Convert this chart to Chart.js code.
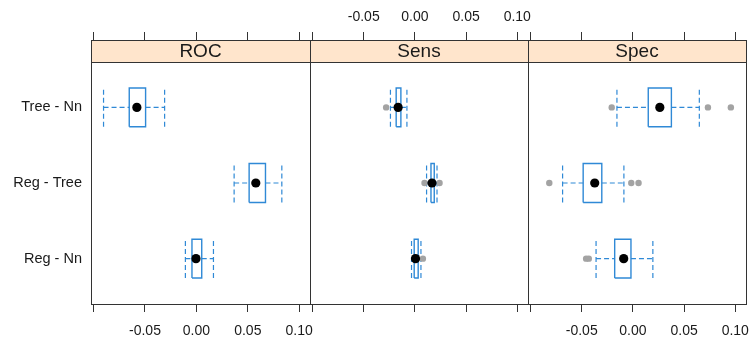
<!DOCTYPE html>
<html>
<head>
<meta charset="utf-8">
<script src="https://cdn.jsdelivr.net/npm/chart.js@4.4.0/dist/chart.umd.min.js"></script>
<style>
  body { margin: 0; background: #fff; overflow: hidden; }
  #wrap { position: relative; width: 751px; height: 338px; overflow: hidden; }
  #wrap canvas { position: absolute; left: 0; top: 0; }
</style>
</head>
<body>
<div id="wrap">
  <canvas id="roc" width="800" height="338"></canvas>
  <canvas id="sens" width="800" height="338"></canvas>
  <canvas id="spec" width="800" height="338"></canvas>
</div>
<script>
// comparisons, bottom row first
const comparisons = ['Reg - Nn', 'Reg - Tree', 'Tree - Nn'];
const metrics = ['ROC', 'Sens', 'Spec'];
const xTicks = [-0.10, -0.05, 0.00, 0.05, 0.10];

// [lower whisker, Q1, median, Q3, upper whisker] per comparison
const rocBox = [
  [-0.0107, -0.0043, -0.0004, 0.0052, 0.0166],
  [0.0367, 0.0513, 0.0578, 0.0672, 0.0831],
  [-0.0903, -0.0653, -0.0579, -0.0494, -0.0309]
];
const sensBox = [
  [-0.0033, -0.0007, 0.0006, 0.0032, 0.0059],
  [0.0114, 0.0157, 0.0167, 0.0189, 0.0216],
  [-0.0239, -0.0183, -0.0164, -0.0137, -0.0078]
];
const specBox = [
  [-0.0360, -0.0178, -0.0090, -0.0019, 0.0195],
  [-0.0687, -0.0486, -0.0373, -0.0304, -0.0088],
  [-0.0156, 0.0150, 0.0263, 0.0376, 0.0649]
];

// outliers per comparison
const rocOut = [[], [], []];
const sensOut = [[0.0078], [0.0094, 0.0241], [-0.0281]];
const specOut = [[-0.0457, -0.0431], [-0.0817, -0.0016, 0.0055], [-0.0207, 0.0733, 0.0957]];

// ---- look ----
const blue = '#2f89d6';
const grey = '#a3a3a3';
const ink = '#1a1a1a';
const font = 'Liberation Sans, Arial, sans-serif';
const boxHalf = 0.257;          // half box height, in row units
const yMin = 0.4, yPlotMax = 3.6;
const stripPx = 22, plotPx = 242;
const yMax = yPlotMax + stripPx * (yPlotMax - yMin) / plotPx;

function gap () { return {x: NaN, y: NaN}; }

function buildDatasets (box, out) {
  const boxPts = [], whiskPts = [], capPts = [], medPts = [], outPts = [];
  box.forEach((s, i) => {
    const y = i + 1;
    const [lo, q1, med, q3, hi] = s;
    boxPts.push({x: q1, y: y - boxHalf}, {x: q3, y: y - boxHalf}, {x: q3, y: y + boxHalf},
                {x: q1, y: y + boxHalf}, {x: q1, y: y - boxHalf}, gap());
    whiskPts.push({x: lo, y: y}, {x: q1, y: y}, gap(), {x: q3, y: y}, {x: hi, y: y}, gap());
    capPts.push({x: lo, y: y - boxHalf}, {x: lo, y: y + boxHalf}, gap(),
                {x: hi, y: y - boxHalf}, {x: hi, y: y + boxHalf}, gap());
    medPts.push({x: med, y: y});
    out[i].forEach(v => outPts.push({x: v, y: y}));
  });
  return [
    {data: medPts, showLine: false, pointRadius: 4.6, pointBackgroundColor: '#000', pointBorderWidth: 0},
    {data: outPts, showLine: false, pointRadius: 3.2, pointBackgroundColor: grey, pointBorderWidth: 0},
    {data: boxPts, showLine: true, spanGaps: false, borderColor: blue, borderWidth: 1.4, pointRadius: 0, borderJoinStyle: 'miter'},
    {data: whiskPts, showLine: true, spanGaps: false, borderColor: blue, borderWidth: 1.2, borderDash: [5, 3], pointRadius: 0},
    {data: capPts, showLine: true, spanGaps: false, borderColor: blue, borderWidth: 1.2, borderDash: [5, 3], pointRadius: 0}
  ];
}

// strip + panel border
const panelFrame = {
  id: 'panelFrame',
  beforeDatasetsDraw (chart) {
    const {ctx, chartArea: a, scales: {y}} = chart;
    const sb = Math.round(y.getPixelForValue(yPlotMax));
    ctx.save();
    ctx.fillStyle = '#ffe5cc';
    ctx.fillRect(a.left, a.top, a.right - a.left, sb - a.top);
    ctx.restore();
  },
  afterDraw (chart) {
    const {ctx, chartArea: a, scales: {y}} = chart;
    const sb = Math.round(y.getPixelForValue(yPlotMax));
    ctx.save();
    ctx.strokeStyle = '#333';
    ctx.lineWidth = 1;
    ctx.beginPath();
    ctx.moveTo(a.left, sb + 0.5);
    ctx.lineTo(a.right + 1, sb + 0.5);
    ctx.stroke();
    ctx.strokeRect(a.left + 0.5, a.top + 0.5, a.right - a.left, a.bottom - a.top);
    ctx.fillStyle = ink;
    ctx.font = '19px ' + font;
    ctx.textAlign = 'center';
    ctx.textBaseline = 'middle';
    ctx.fillText(chart.options.panelName, (a.left + a.right) / 2, (a.top + sb) / 2 + 1);
    ctx.restore();
  }
};

function xAxis (position, showLabels, height, pad) {
  return {
    type: 'linear', position: position, min: -0.1025, max: 0.1105,
    afterBuildTicks: s => { s.ticks = xTicks.map(v => ({value: v})); },
    afterFit: s => { s.height = height; },
    border: {display: false},
    grid: {drawOnChartArea: false, drawTicks: true, tickLength: 8, color: '#333', lineWidth: 1},
    ticks: {
      display: showLabels, padding: pad, color: ink, font: {family: font, size: 14},
      maxRotation: 0, autoSkip: false,
      callback: v => (Math.abs(v + 0.1) < 1e-9 ? '' : v.toFixed(2))
    }
  };
}

const panels = [
  {id: 'roc', name: metrics[0], box: rocBox, out: rocOut, padL: 0, padR: 490, yLabels: true, top: false, bottom: true},
  {id: 'sens', name: metrics[1], box: sensBox, out: sensOut, padL: 310, padR: 272, yLabels: false, top: true, bottom: false},
  {id: 'spec', name: metrics[2], box: specBox, out: specOut, padL: 528, padR: 54, yLabels: false, top: false, bottom: true}
];

panels.forEach(p => {
  new Chart(document.getElementById(p.id), {
    type: 'scatter',
    data: {datasets: buildDatasets(p.box, p.out)},
    plugins: [panelFrame],
    options: {
      panelName: p.name,
      responsive: false,
      devicePixelRatio: 1,
      animation: false,
      events: [],
      layout: {padding: {left: p.padL, right: p.padR, top: 0, bottom: 0}},
      plugins: {legend: {display: false}, tooltip: {enabled: false}},
      scales: {
        x: xAxis('bottom', p.bottom, 34, 11),
        x2: xAxis('top', p.top, 40, 6),
        y: {
          type: 'linear', display: p.yLabels, min: yMin, max: yMax,
          afterBuildTicks: s => { s.ticks = comparisons.map((c, i) => ({value: i + 1})); },
          afterFit: s => { s.width = p.yLabels ? 91 : 0; },
          border: {display: false},
          grid: {display: false, drawTicks: false},
          ticks: {
            padding: 9, color: ink, font: {family: font, size: 14.5},
            callback: v => comparisons[v - 1]
          }
        }
      }
    }
  });
});
</script>
</body>
</html>
